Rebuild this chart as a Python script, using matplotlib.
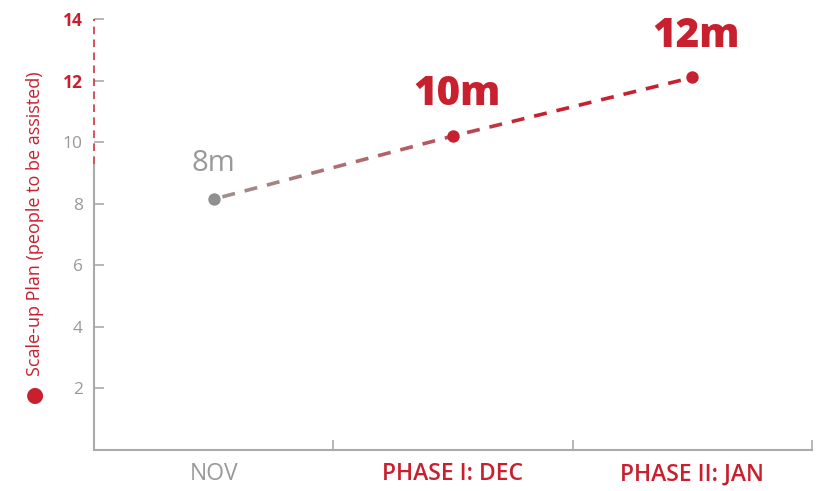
import matplotlib
matplotlib.use("Agg")
import matplotlib.pyplot as plt
import numpy as np
from matplotlib.colors import to_rgb

# ---- data ----
categories = ["NOV", "PHASE I: DEC", "PHASE II: JAN"]
values = [8.15, 10.2, 12.1]
point_labels = ["8m", "10m", "12m"]
yticks = [2, 4, 6, 8, 10, 12, 14]
highlight_ticks = [12, 14]
dashed_spine_from = 9.3

RED = "#C8202F"
GRAY = "#999999"
DOT_GRAY = "#8f9191"
SPINE = "#aaaaaa"

plt.rcParams['font.family'] = ['Open Sans', 'DejaVu Sans']

fig = plt.figure(figsize=(8.16, 4.91), dpi=100)
ax = fig.add_axes([94/816, 1-450/491, (812-94)/816, (450-19)/491])
ax.set_xlim(-0.5, 2.5)
ax.set_ylim(0, 14)

x = np.arange(len(categories))

# spines
for s in ["top", "right", "left"]:
    ax.spines[s].set_visible(False)
ax.spines["bottom"].set_color(SPINE)
ax.spines["bottom"].set_linewidth(1.5)
yt = ax.get_yaxis_transform()
ax.plot([0, 0], [0, dashed_spine_from], color=SPINE, lw=1.5, transform=yt, clip_on=False, solid_capstyle="butt")
ax.plot([0, 0], [dashed_spine_from, 14], color=RED, lw=1.1, transform=yt, clip_on=False,
        dashes=(5, 3.5))

# ticks
ax.set_yticks(yticks)
ax.tick_params(axis="y", direction="in", length=7, width=1.2, color=SPINE, pad=8, labelsize=12.5, labelcolor=GRAY)
for lab, v in zip(ax.get_yticklabels(), yticks):
    if v in highlight_ticks:
        lab.set_color(RED)
        lab.set_fontweight("bold")
ax.set_xticks(np.arange(len(categories)) + 0.5)
ax.set_xticklabels([])
ax.set_xticks(x, minor=True)
ax.set_xticklabels(categories, minor=True)
ax.tick_params(axis="x", which="major", direction="in", length=7, width=1.2, color=SPINE)
ax.tick_params(axis="x", which="minor", length=0, pad=9, labelsize=16.5)
for i, lab in enumerate(ax.get_xticklabels(minor=True)):
    if i == 0:
        lab.set_color(GRAY)
    else:
        lab.set_color(RED)
        lab.set_fontweight("semibold")

# gradient dashed line (dashes computed along the polyline in pixel space)
fig.canvas.draw()
pts = ax.transData.transform(np.column_stack([x, values]))
inv = ax.transData.inverted()
seglens = np.hypot(*np.diff(pts, axis=0).T)
cum = np.concatenate([[0], np.cumsum(seglens)])
total = cum[-1]

def pos_at(d):
    i = min(np.searchsorted(cum, d, side="right") - 1, len(seglens) - 1)
    f = (d - cum[i]) / seglens[i]
    return pts[i] + f * (pts[i + 1] - pts[i]), i, f

c_start = np.array(to_rgb("#a09292"))
c_mid = np.array(to_rgb("#b8505a"))
c_end = np.array(to_rgb(RED))

def color_at(d):
    _, i, f = pos_at(d)
    if i == 0:
        return c_start + f * (c_mid - c_start)
    return c_mid + min(1, f * 3) * (c_end - c_mid)

dash, gap = 13.0, 10.0
d = 9.0
while d < total - 6:
    d2 = min(d + dash, total - 6)
    p1, _, _ = pos_at(d)
    p2, _, _ = pos_at(d2)
    q = inv.transform(np.array([p1, p2]))
    ax.plot(q[:, 0], q[:, 1], color=color_at((d + d2) / 2), lw=2.6, solid_capstyle="butt", zorder=2)
    d += dash + gap

# markers
ax.scatter(x[:1], values[:1], s=80, color=DOT_GRAY, zorder=3, linewidths=0)
ax.scatter(x[1:], values[1:], s=80, color=RED, zorder=3, linewidths=0)

# point labels
ax.annotate(point_labels[0], (x[0], values[0]), xytext=(0, 15), textcoords="offset points",
            ha="center", va="bottom", fontsize=21, color=GRAY)
for xi, v, t in zip(x[1:], values[1:], point_labels[1:]):
    ax.annotate(t, (xi, v), xytext=(3, 15), textcoords="offset points",
                ha="center", va="bottom", fontsize=29, color=RED, fontweight=800)

# y label (legend dot + text)
fig.text(35/816, 1-395/491, "\u25CF", ha="center", va="center", fontsize=15, color=RED,
         family="DejaVu Sans")
fig.text(35/816, 1-224/491, "Scale-up Plan (people to be assisted)", rotation=90,
         ha="center", va="center", fontsize=13, color=RED)

fig.savefig("out.png", dpi=100)
